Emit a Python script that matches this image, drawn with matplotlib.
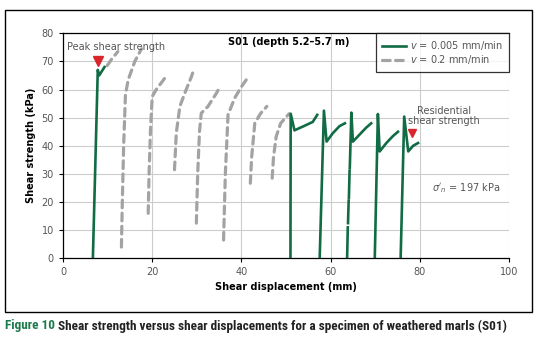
import numpy as np
import matplotlib.pyplot as plt
from matplotlib import font_manager
from matplotlib.patches import Rectangle

# v = 0.005 mm/min cycles (displacement mm, strength kPa)
slow_x = [
    [6.7, 7.8, 8.1, 9.3],
    [51.0, 51.05, 51.9, 54.0, 56.0, 57.0],
    [57.55, 58.5, 59.1, 60.5, 62.0, 63.2],
    [63.7, 63.85, np.nan, 63.9, 64.05, np.nan, 64.1, 64.25, np.nan, 64.3, 64.65, 65.0, 66.5, 68.0, 69.1],
    [69.9, 70.6, 71.0, 72.5, 74.0, 75.1],
    [75.7, 76.5, 77.4, 78.5, 79.6],
]
slow_y = [
    [0, 67, 65, 68],
    [0, 51.4, 45.5, 47, 48.5, 51],
    [0, 52.5, 41.5, 44.5, 47, 48],
    [0, 11, np.nan, 12.5, 20.5, np.nan, 21.5, 31, np.nan, 32, 51.8, 41.5, 44, 46.5, 48],
    [0, 51.3, 38, 41, 43.5, 45],
    [0, 50.4, 38, 40, 41],
]

# v = 0.2 mm/min cycles
fast_x = [
    [9.9, 11.0, 12.3],
    [13.1, 13.3, 13.6, 14.0, 14.6, 16.1, 17.6],
    [19.1, 19.3, 19.6, 20.0, 20.9, 22.8, 23.4],
    [25.0, 25.4, 26.2, 27.3, 28.8, 29.2],
    [29.9, 30.2, 30.6, 31.0, 32.5, 34.4, 35.2],
    [36.0, 36.4, 37.0, 38.5, 40.0, 41.1],
    [42.0, 42.3, 43.0, 44.3, 45.7],
    [46.9, 47.2, 47.8, 48.8, 50.7],
]
fast_y = [
    [68.5, 71, 73.5],
    [4, 20, 40, 58, 63.4, 70, 74.5],
    [16, 30, 45, 57.5, 60, 64, 65],
    [31.5, 44.5, 54, 58.7, 64.6, 66.5],
    [12.5, 30, 45, 51.6, 54, 58.7, 61],
    [6.5, 30, 51, 57, 61, 63.5],
    [26.7, 36, 48, 51.5, 54],
    [28.5, 36, 43.3, 48, 51.4],
]

peak = (7.85, 70)
residual = (78.3, 44.5)

caption_num = 'Figure 10'
caption = 'Shear strength versus shear displacements for a specimen of weathered marls (S01)'

green = '#116b45'
grey = '#a3a3a3'
red = '#d8262b'
tick_col = '#555555'

fig = plt.figure(figsize=(5.37, 3.43), dpi=100)
ax = fig.add_axes([0.1173, 0.2469, 0.8306, 0.656])

for i, (xs, ys) in enumerate(zip(fast_x, fast_y)):
    ax.plot(xs, ys, color=grey, lw=2.3, dashes=(2.4, 1.7), solid_capstyle='round',
            dash_capstyle='round', label='$v$ = 0.2 mm/min' if i == 0 else None, zorder=3)
for i, (xs, ys) in enumerate(zip(slow_x, slow_y)):
    ax.plot(xs, ys, color=green, lw=1.9, label='$v$ = 0.005 mm/min' if i == 0 else None, zorder=4)

ax.plot(*peak, marker='v', color=red, ms=7, ls='none', zorder=5)
ax.plot(*residual, marker='v', color=red, ms=6, ls='none', zorder=5)

ax.set_xlim(0, 100)
ax.set_ylim(0, 80)
ax.set_xticks(np.arange(0, 101, 20))
ax.set_yticks(np.arange(0, 81, 10))
ax.grid(True, color='#cccccc', lw=0.8)
ax.set_axisbelow(True)
ax.tick_params(labelsize=7, colors='black', labelcolor=tick_col, length=3, width=0.8)
ax.spines['right'].set_visible(False)
for s in ['left', 'bottom', 'top']:
    ax.spines[s].set_linewidth(0.9)

ax.set_xlabel('Shear displacement (mm)', fontsize=7, fontweight='bold', labelpad=3)
ax.set_ylabel('Shear strength (kPa)', fontsize=7, fontweight='bold', labelpad=4)

ax.text(37, 77, 'S01 (depth 5.2–5.7 m)', fontsize=7, fontweight='bold', va='center')
ax.text(1.0, 75, 'Peak shear strength', fontsize=7, color=tick_col, va='center')
ax.text(85.5, 50.5, 'Residential\nshear strength', fontsize=7, color=tick_col,
        ha='center', va='center', linespacing=1.0)
ax.text(98, 25, "$\\sigma'_n$ = 197 kPa", fontsize=7, color=tick_col, ha='right', va='center')

handles, labels = ax.get_legend_handles_labels()
leg = ax.legend(handles[::-1], labels[::-1], loc='upper right', bbox_to_anchor=(1.0, 1.0),
                borderaxespad=0, fontsize=7, fancybox=False, edgecolor='black',
                handlelength=2.5, handletextpad=0.4, labelspacing=0.1, borderpad=0.6)
leg.get_frame().set_linewidth(0.9)
for t in leg.get_texts():
    t.set_color(tick_col)

fig.patches.append(Rectangle((5 / 537, 1 - 312 / 343), 527 / 537, 302 / 343,
                             transform=fig.transFigure, fill=False, ec='black', lw=1))

# condensed font if there is one, otherwise shrink to fit the caption width
installed = {f.name for f in font_manager.fontManager.ttflist}
cap_font = 'Roboto'
for name in ['Roboto Condensed', 'Liberation Sans Narrow', 'Open Sans Condensed', 'DejaVu Sans Condensed']:
    if name in installed:
        cap_font = name
        break

cap_y = 1 - 326 / 343
t1 = fig.text(5 / 537, cap_y, caption_num, fontsize=8, fontweight='bold',
              color='#1d7a4c', family=cap_font, va='center')
t2 = fig.text(0, cap_y, caption, fontsize=8, fontweight='bold',
              color='#222222', family=cap_font, va='center')
fig.canvas.draw()
w = t1.get_window_extent().width + 3 + t2.get_window_extent().width
size = min(9.5, 8 * 505 / w)
t1.set_fontsize(size)
t2.set_fontsize(size)
fig.canvas.draw()
bb = t1.get_window_extent()
t2.set_x((bb.x1 + 3) / fig.bbox.width)

fig.savefig('out.png', dpi=100)
